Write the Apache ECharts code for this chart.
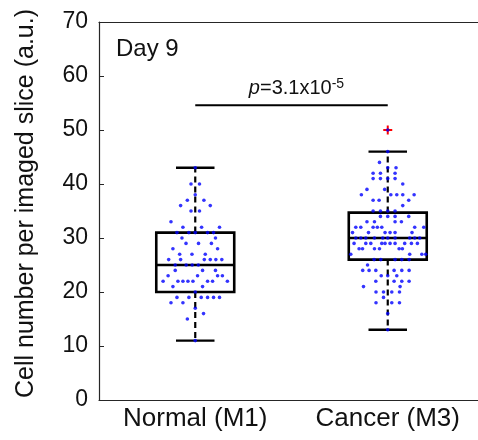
<!DOCTYPE html>
<html>
<head>
<meta charset="utf-8">
<script src="https://cdn.jsdelivr.net/npm/echarts@6/dist/echarts.min.js"></script>
<style>
html,body{margin:0;padding:0;background:#fff;}
#chart{width:478px;height:440px;}
</style>
</head>
<body>
<div id="chart"></div>
<script>
// ---- data ----
const categories = ['Normal (M1)', 'Cancer (M3)'];
// [min, Q1, median, Q3, max] per group
const boxStats = [
  [11, 20, 25, 31, 43],
  [13, 26, 30, 34.7, 46]
];
// outliers: [group position, value]
const outliers = [[2, 50]];
// jittered points: [x jitter (category units), value]
const normalDots = [
  [0,43],
  [-0.022,40],[0.022,40],
  [0,38],
  [-0.041,37],[0.045,37],
  [-0.076,36],[0.078,36],
  [-0.022,35],[0.022,35],
  [-0.126,33],
  [-0.064,32],[0.033,32],[0.126,32],
  [-0.095,31],[-0.033,31],[0,31],[0.064,31],[0.095,31],
  [-0.069,30],[0.105,30],
  [-0.048,29],[0.017,29],[0.084,29],
  [-0.116,28],[0.116,28],
  [-0.081,27],[-0.017,27],[0.052,27],
  [-0.138,26],[-0.076,26],[0.047,26],[0.078,26],[0.107,26],[0.138,26],
  [-0.104,25],[-0.047,25],[-0.016,25],[0.016,25],
  [-0.104,24],[0.038,24],[0.105,24],
  [-0.141,23],[0.012,23],[0.116,23],[0.141,23],
  [-0.167,22],[-0.090,22],[-0.064,22],[-0.038,22],[-0.012,22],[0.064,22],[0.090,22],[0.167,22],
  [-0.116,21],[0.038,21],
  [0,20],
  [-0.095,19],[-0.033,19],[0.031,19],[0.064,19],[0.095,19],[0.126,19],
  [-0.126,18],[-0.064,18],
  [0,17],
  [0.043,16],
  [-0.041,15],
  [0,11]
];
const cancerDots = [
  [0,50],
  [0,46],
  [-0.043,44],
  [0,43],[0.043,43],
  [-0.076,42],[-0.038,42],[0.038,42],
  [-0.076,41],[-0.038,41],[0,41],[0.038,41],
  [0.078,40],
  [-0.108,39],[-0.016,39],
  [-0.137,38],[0.016,38],[0.047,38],[0.078,38],[0.137,38],
  [-0.076,37],[-0.045,37],[0.109,37],
  [0.078,36],
  [-0.076,35],[-0.038,35],[0,35],[0.038,35],
  [-0.038,34],[0,34],[0.038,34],[0.109,34],
  [-0.108,33],[-0.069,33],[0.038,33],[0.071,33],
  [-0.166,32],[-0.140,32],[-0.076,32],[-0.054,32],[-0.031,32],[0.140,32],[0.187,32],
  [-0.183,31],[-0.100,31],[-0.014,31],[0.012,31],[0.038,31],[0.126,31],
  [-0.166,30],[-0.140,30],[-0.114,30],[-0.069,30],[-0.026,30],[0,30],[0.038,30],[0.114,30],[0.140,30],[0.166,30],
  [-0.175,29],[-0.114,29],[-0.088,29],[-0.031,29],[-0.014,29],[0.012,29],[0.038,29],[0.088,29],[0.123,29],[0.154,29],
  [-0.149,28],[-0.131,28],[-0.069,28],[-0.043,28],[0.059,28],[0.076,28],
  [-0.192,27],[0.114,27],[0.177,27],[0.197,27],
  [-0.071,26],[-0.036,26],[0.038,26],[0.073,26],[0.111,26],
  [-0.105,25],
  [-0.130,24],[-0.097,24],[-0.062,24],[0.033,24],[0.073,24],[0.111,24],
  [-0.034,23],[0,23],[0.047,23],
  [-0.062,22],[0.033,22],[0.073,22],[0.111,22],
  [-0.126,21],[0.064,21],
  [-0.061,20],[-0.022,20],[0.021,20],[0.061,20],
  [-0.022,19],
  [-0.061,18],[0.021,18],[0.061,18],
  [0,16],
  [0,13]
];
const yMin = 0, yMax = 70, yInterval = 10;
const yAxisTitle = 'Cell number per imaged slice (a.u.)';
const panelLabel = 'Day 9';
const sigBar = [1, 2, 54.6];        // from group 1 to group 2 at this value
const pValueRich = '{i|p}=3.1x10{s|-5}';

// ---- build ----
const FONT = 'Liberation Sans, Arial, Helvetica, sans-serif';
const BOX_HALF = 0.2025, CAP_HALF = 0.1;
const INK = '#000';

const boxData = boxStats.map((s, i) => [i + 1].concat(s));
const dotData = normalDots.map(d => [1 + d[0], d[1]])
  .concat(cancerDots.map(d => [2 + d[0], d[1]]));

function renderBox(params, api) {
  const x = api.value(0);
  const mn = api.value(1), q1 = api.value(2), md = api.value(3), q3 = api.value(4), mx = api.value(5);
  const pMin = api.coord([x, mn]), pQ1 = api.coord([x, q1]), pMd = api.coord([x, md]);
  const pQ3 = api.coord([x, q3]), pMax = api.coord([x, mx]);
  const hw = api.size([BOX_HALF, 0])[0];
  const cw = api.size([CAP_HALF, 0])[0];
  const cx = pMin[0];
  const solid = {stroke: INK, lineWidth: 2.4, fill: null};
  const dashed = {stroke: INK, lineWidth: 2.2, lineDash: [6, 4], fill: null};
  return {
    type: 'group',
    children: [
      {type: 'line', shape: {x1: cx, y1: pQ3[1], x2: cx, y2: pMax[1]}, style: dashed},
      {type: 'line', shape: {x1: cx, y1: pQ1[1], x2: cx, y2: pMin[1]}, style: dashed},
      {type: 'line', shape: {x1: cx - cw, y1: pMax[1], x2: cx + cw, y2: pMax[1]}, style: solid},
      {type: 'line', shape: {x1: cx - cw, y1: pMin[1], x2: cx + cw, y2: pMin[1]}, style: solid},
      {type: 'rect', shape: {x: cx - hw, y: pQ3[1], width: 2 * hw, height: pQ1[1] - pQ3[1]}, style: {stroke: INK, lineWidth: 2.6, fill: null}},
      {type: 'line', shape: {x1: cx - hw, y1: pMd[1], x2: cx + hw, y2: pMd[1]}, style: {stroke: INK, lineWidth: 2.6}}
    ]
  };
}

function renderOutlier(params, api) {
  const p = api.coord([api.value(0), api.value(1)]);
  const s = 4.5;
  const st = {stroke: '#ff0000', lineWidth: 2};
  return {type: 'group', children: [
    {type: 'line', shape: {x1: p[0] - s, y1: p[1], x2: p[0] + s, y2: p[1]}, style: st},
    {type: 'line', shape: {x1: p[0], y1: p[1] - s, x2: p[0], y2: p[1] + s}, style: st}
  ]};
}

function renderSig(params, api) {
  const a = api.coord([api.value(0), api.value(2)]);
  const b = api.coord([api.value(1), api.value(2)]);
  return {type: 'group', children: [
    {type: 'line', shape: {x1: a[0], y1: a[1], x2: b[0], y2: b[1]}, style: {stroke: INK, lineWidth: 2}},
    {type: 'text', style: {
      text: pValueRich,
      x: (a[0] + b[0]) / 2 + 5, y: a[1] - 5,
      align: 'center', verticalAlign: 'bottom',
      fill: '#111', fontSize: 20, fontFamily: FONT, lineHeight: 23,
      rich: {
        i: {fontStyle: 'italic', fontSize: 20, fontFamily: FONT, lineHeight: 23, fill: '#111'},
        s: {fontSize: 14, fontFamily: FONT, lineHeight: 14, verticalAlign: 'top', fill: '#111'}
      }
    }}
  ]};
}

const axisColor = '#262626';
const chart = echarts.init(document.getElementById('chart'), null, {renderer: 'canvas'});
chart.setOption({
  animation: false,
  backgroundColor: '#fff',
  grid: {left: 99, top: 22, width: 385, height: 378, containLabel: false, outerBoundsMode: 'none'},
  xAxis: [
    {type: 'category', data: categories, position: 'bottom', boundaryGap: true,
     axisLine: {lineStyle: {color: axisColor, width: 1.2}},
     axisTick: {inside: true, alignWithLabel: true, length: 5, lineStyle: {color: axisColor}},
     axisLabel: {color: '#111', fontSize: 26, fontFamily: FONT, margin: 6},
     splitLine: {show: false}},
    {type: 'category', data: categories, position: 'top', boundaryGap: true,
     axisLine: {lineStyle: {color: axisColor, width: 1.2}},
     axisTick: {inside: true, alignWithLabel: true, length: 5, lineStyle: {color: axisColor}},
     axisLabel: {show: false}, splitLine: {show: false}},
    {type: 'value', min: 0.5, max: 2.5, show: false, splitLine: {show: false}}
  ],
  yAxis: {
    type: 'value', min: yMin, max: yMax, interval: yInterval,
    name: yAxisTitle, nameLocation: 'middle', nameRotate: 90, nameGap: 60,
    nameTextStyle: {color: '#111', fontSize: 25, fontFamily: FONT, padding: [0, 0, 0, 15]},
    axisLine: {show: true, lineStyle: {color: axisColor, width: 1.2}},
    axisTick: {show: true, inside: true, length: 5, lineStyle: {color: axisColor}},
    axisLabel: {color: '#111', fontSize: 23, fontFamily: FONT, margin: 11},
    splitLine: {show: false}
  },
  graphic: [{
    type: 'text', left: 116, top: 37,
    style: {text: panelLabel, fill: '#111', fontSize: 24, fontFamily: FONT}
  }],
  series: [
    {type: 'custom', xAxisIndex: 2, renderItem: renderBox, data: boxData,
     encode: {x: 0, y: [1, 2, 3, 4, 5]}, z: 2, silent: true},
    {type: 'custom', xAxisIndex: 2, renderItem: renderOutlier, data: outliers,
     encode: {x: 0, y: 1}, z: 3, silent: true},
    {type: 'scatter', xAxisIndex: 2, data: dotData, symbol: 'circle', symbolSize: 3.6,
     itemStyle: {color: '#0000ff'}, z: 4, silent: true},
    {type: 'custom', xAxisIndex: 2, renderItem: renderSig, data: [sigBar],
     encode: {x: [0, 1], y: 2}, z: 5, silent: true}
  ]
});
</script>
</body>
</html>
